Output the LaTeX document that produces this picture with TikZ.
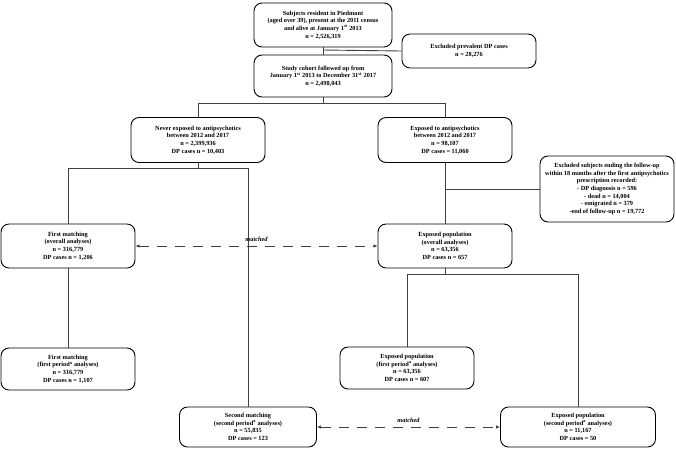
\documentclass[tikz,border=0pt]{standalone}
\usepackage{fontspec}
\setmainfont{Liberation Serif}
\usetikzlibrary{arrows.meta,calc}
\begin{document}
\begin{tikzpicture}[x=1pt,y=-1pt,
  box/.style={draw=black,line width=0.9pt,rounded corners=8pt,align=center,
    font=\fontsize{6.3}{7.6}\selectfont\bfseries,inner sep=1pt},
  conn/.style={draw=black!75,line width=0.9pt},
  match/.style={conn,dash pattern=on 10pt off 8pt,{Latex[length=4pt,width=3.5pt]}-{Latex[length=4pt,width=3.5pt]}},
  lab/.style={font=\fontsize{6.3}{7.6}\selectfont\bfseries\itshape}]
\useasboundingbox (0,0) rectangle (676,448);
\node[box,minimum width=138pt,minimum height=44pt] (b1) at (323,25) {Subjects resident in Piedmont\\(aged over 39), present at the 2011 census\\and alive at January 1\textsuperscript{st} 2013\\n = 2,526,319};
\node[box,minimum width=134pt,minimum height=34pt] (exc1) at (469,51) {Excluded prevalent DP cases\\n = 28,276};
\node[box,minimum width=138pt,minimum height=42pt] (b2) at (323,76) {Study cohort followed up from\\January 1\textsuperscript{st} 2013 to December 31\textsuperscript{st} 2017\\n = 2,498,043};
\node[box,minimum width=134pt,minimum height=45pt] (never) at (198,140) {Never exposed to antipsychotics\\between 2012 and 2017\\n = 2,399,936\\DP cases n = 10,403};
\node[box,minimum width=134pt,minimum height=45pt] (exposed) at (445,140) {Exposed to antipsychotics\\between 2012 and 2017\\n = 98,107\\DP cases = 11,060};
\node[box,minimum width=134pt,minimum height=66pt] (exc2) at (607,189) {Excluded subjects ending the follow-up\\within 18 months after the first antipsychotics\\prescription recorded:\\- DP diagnosis n = 596\\- dead n = 14,004\\- emigrated n = 379\\-end of follow-up n = 19,772};
\node[box,minimum width=134pt,minimum height=44pt] (fm) at (68,246) {First matching\\(overall analyses)\\n = 316,779\\DP cases n = 1,206};
\node[box,minimum width=134pt,minimum height=44pt] (epo) at (445,246) {Exposed population\\(overall analyses)\\n = 63,356\\DP cases n = 657};
\node[box,minimum width=134pt,minimum height=42pt] (fm1) at (68,369) {First matching\\(first period\textsuperscript{a} analyses)\\n = 316,779\\DP cases n = 1,107};
\node[box,minimum width=134pt,minimum height=42pt] (ep1) at (407,368) {Exposed population\\(first period\textsuperscript{a} analyses)\\n = 63,356\\DP cases n = 607};
\node[box,minimum width=137pt,minimum height=40pt] (sm) at (248,427) {Second matching\\(second period\textsuperscript{a} analyses)\\n = 55,835\\DP cases = 123};
\node[box,minimum width=155pt,minimum height=40pt] (ep2) at (578,427) {Exposed population\\(second period\textsuperscript{a} analyses)\\n = 11,167\\DP cases = 50};
% coordinates
\coordinate (j1) at (323,50);
\coordinate (s1) at (323,103);
\coordinate (s1l) at (198,103);
\coordinate (s1r) at (445,103);
\coordinate (s2) at (198,168);
\coordinate (s2l) at (68,168);
\coordinate (s2r) at (248,168);
\coordinate (j2) at (445,189);
\coordinate (s3) at (445,274);
\coordinate (s3l) at (407,274);
\coordinate (s3r) at (578,274);
% connectors
\draw[conn] (b1.south) -- (b2.north);
\draw[conn] (j1) -- (exc1.west);
\draw[conn] (b2.south) -- (s1);
\draw[conn] (never.north) -- (s1l) -- (s1r) -- (exposed.north);
\draw[conn] (never.south) -- (s2);
\draw[conn] (fm.north) -- (s2l) -- (s2r) -- (sm.north);
\draw[conn] (exposed.south) -- (epo.north);
\draw[conn] (j2) -- (exc2.west);
\draw[conn] (epo.south) -- (s3);
\draw[conn] (ep1.north) -- (s3l) -- (s3r) -- (ep2.north);
\draw[conn] (fm.south) -- (fm1.north);
\draw[match] (fm.east) -- node[lab,above=1pt] {matched} (epo.west);
\draw[match] (sm.east) -- node[lab,above=1pt] {matched} (ep2.west);
\end{tikzpicture}
\end{document}
